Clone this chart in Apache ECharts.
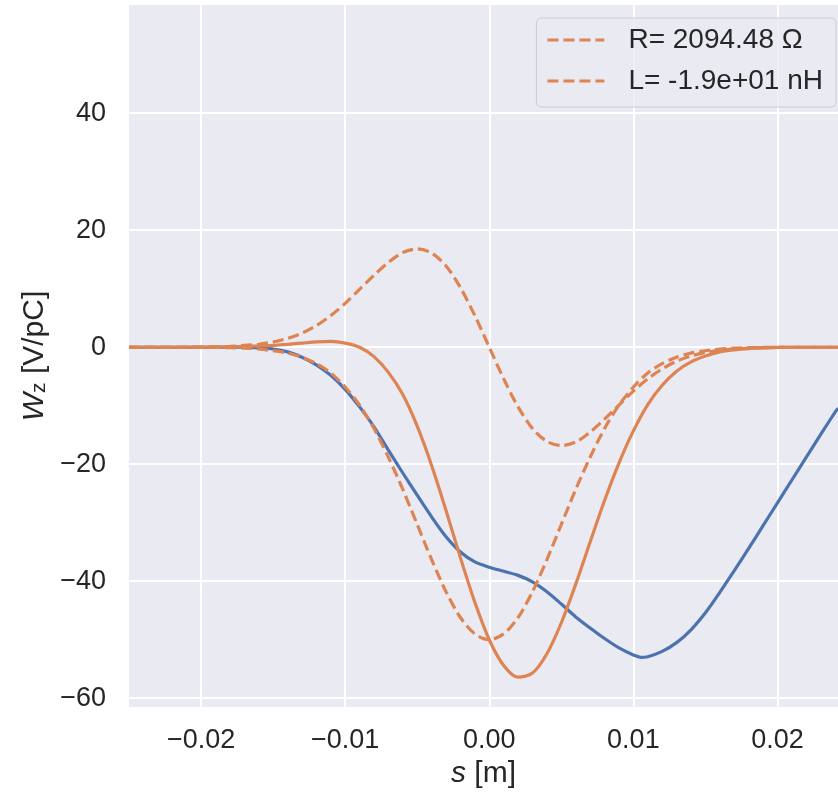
<!DOCTYPE html>
<html>
<head>
<meta charset="utf-8">
<script src="https://cdn.jsdelivr.net/npm/echarts@6/dist/echarts.min.js"></script>
<style>
  html, body { margin: 0; padding: 0; background: #fff; }
  #chart { width: 838px; height: 797px; }
</style>
</head>
<body>
<div id="chart"></div>
<script>
// s positions [m] for the orange curves (1 mm steps, last point at the plot edge)
const sGrid = [
  -0.025, -0.024, -0.023, -0.022, -0.021, -0.020, -0.019, -0.018, -0.017, -0.016,
  -0.015, -0.014, -0.013, -0.012, -0.011, -0.010, -0.009, -0.008, -0.007, -0.006,
  -0.005, -0.004, -0.003, -0.002, -0.001, 0.000, 0.001, 0.002, 0.003, 0.004,
  0.005, 0.006, 0.007, 0.008, 0.009, 0.010, 0.011, 0.012, 0.013, 0.014,
  0.015, 0.016, 0.017, 0.018, 0.019, 0.020, 0.021, 0.022, 0.023, 0.024, 0.0242
]
// resistive part (dashed)
const wakeR = [
  0, 0, 0, 0, 0, -0.02, -0.04, -0.08, -0.15, -0.3,
  -0.6, -1.0, -1.7, -2.8, -4.4, -6.8, -9.9, -13.9, -18.8, -24.3,
  -30.3, -36.3, -41.8, -46.2, -49.0, -50.0, -49.0, -46.2, -41.8, -36.3,
  -30.3, -24.3, -18.8, -13.9, -9.9, -6.8, -4.4, -2.8, -1.7, -1.0,
  -0.6, -0.3, -0.15, -0.08, -0.04, -0.02, 0, 0, 0, 0, 0
]
// inductive part (dashed)
const wakeL = [
  0, 0, 0, 0, 0, 0.03, 0.07, 0.15, 0.3, 0.5,
  0.9, 1.5, 2.4, 3.7, 5.4, 7.5, 9.9, 12.3, 14.5, 16.2,
  16.8, 16.1, 13.9, 10.2, 5.4, 0, -5.4, -10.2, -13.9, -16.1,
  -16.8, -16.2, -14.5, -12.3, -9.9, -7.5, -5.4, -3.7, -2.4, -1.5,
  -0.9, -0.5, -0.3, -0.15, -0.07, -0.03, 0, 0, 0, 0, 0
]
// R + L fit (solid orange)
const wakeFit = [
  0, 0, 0, 0, 0, 0.01, 0.03, 0.07, 0.15, 0.2,
  0.3, 0.5, 0.7, 0.9, 1.0, 0.7, 0.0, -1.6, -4.3, -8.1,
  -13.5, -20.2, -27.9, -36.0, -43.6, -50.0, -54.4, -56.4, -55.7, -52.4,
  -47.1, -40.5, -33.3, -26.2, -19.8, -14.3, -9.8, -6.5, -4.1, -2.5,
  -1.5, -0.8, -0.45, -0.23, -0.11, -0.05, 0, 0, 0, 0, 0
]
// simulated wake (blue)
const sWake = [
  -0.025, -0.024, -0.023, -0.022, -0.021, -0.020, -0.019, -0.018, -0.017, -0.016,
  -0.015, -0.014, -0.013, -0.012, -0.011, -0.010, -0.009, -0.008, -0.007, -0.006,
  -0.005, -0.004, -0.003, -0.002, -0.001, 0.000, 0.001, 0.002, 0.003, 0.004,
  0.005, 0.006, 0.007, 0.008, 0.009, 0.010, 0.0105, 0.011, 0.012, 0.013, 0.014,
  0.015, 0.016, 0.017, 0.018, 0.019, 0.020, 0.021, 0.022, 0.023, 0.024, 0.0242
]
const wakeZ = [
  0, 0, 0, 0, 0, 0, 0, 0, 0, -0.1,
  -0.3, -0.8, -1.7, -3.0, -4.8, -7.2, -10.2, -13.6, -17.6, -21.5,
  -25.3, -29.0, -32.4, -35.0, -36.7, -37.6, -38.3, -39.0, -40.1, -41.8,
  -43.9, -46.1, -48.0, -49.8, -51.4, -52.6, -53.0, -52.9, -52.0, -50.5, -48.3,
  -45.4, -41.9, -38.2, -34.4, -30.5, -26.6, -22.7, -18.8, -14.9, -11.1, -10.4
]
const xTicks = [-0.02, -0.01, 0, 0.01, 0.02]
const yTicks = [-60, -40, -20, 0, 20, 40]

const pairs = (xs, ys) => xs.map((x, i) => [x, ys[i]])
const minus = (s) => String(s).replace('-', '\u2212')

const blue = '#4c72b0'
const orange = '#dd8452'
const font = 'Liberation Sans, Arial, sans-serif'
const dashIcon = 'path://M0 0H11V3H0Z M16 0H27V3H16Z M32 0H43V3H32Z M48 0H57V3H48Z'

const chart = echarts.init(document.getElementById('chart'))
chart.setOption({
  animation: false,
  textStyle: { fontFamily: font, color: '#262626' },
  grid: {
    left: 129, right: 0, top: 5, bottom: 90,
    show: true, backgroundColor: '#eaeaf2', borderWidth: 0
  },
  legend: {
    data: ['R= 2094.48 \u03a9', 'L= -1.9e+01 nH'],
    orient: 'vertical',
    right: 2, top: 18,
    padding: [7, 13, 11, 11],
    icon: dashIcon,
    itemWidth: 57, itemHeight: 3, itemGap: 11,
    backgroundColor: 'rgba(234,234,242,0.8)',
    borderColor: '#cccccc', borderWidth: 1, borderRadius: 5,
    textStyle: { fontSize: 28, color: '#262626', fontFamily: font, lineHeight: 30, padding: [0, 0, 0, 19] }
  },
  xAxis: {
    type: 'value',
    min: -0.025, max: 0.0242,
    name: '{i|s} [m]',
    nameLocation: 'middle', nameGap: 52,
    nameTextStyle: { fontSize: 30, color: '#262626', rich: { i: { fontStyle: 'italic', fontSize: 30 } } },
    axisLine: { show: false },
    axisTick: { show: false, customValues: xTicks },
    axisLabel: {
      customValues: xTicks, fontSize: 27, color: '#262626', margin: 20,
      formatter: (v) => minus(v.toFixed(2))
    },
    splitLine: { lineStyle: { color: '#ffffff', width: 2 } }
  },
  yAxis: {
    type: 'value',
    min: -61.5, max: 58.5,
    name: '{i|W}{sub|z} [V/pC]',
    nameLocation: 'middle', nameGap: 79, nameRotate: 90,
    nameTextStyle: {
      fontSize: 30, color: '#262626',
      rich: { i: { fontStyle: 'italic', fontSize: 30 }, sub: { fontSize: 21, verticalAlign: 'bottom', padding: [8, 0, 0, 0] } }
    },
    axisLine: { show: false },
    axisTick: { show: false, customValues: yTicks },
    axisLabel: {
      customValues: yTicks, fontSize: 27, color: '#262626', margin: 23,
      formatter: (v) => minus(v)
    },
    splitLine: { lineStyle: { color: '#ffffff', width: 2 } }
  },
  series: [
    {
      name: 'Wz', type: 'line', data: pairs(sWake, wakeZ),
      smooth: 0.3, symbol: 'none',
      lineStyle: { color: blue, width: 3.2 }, itemStyle: { color: blue }
    },
    {
      name: 'R= 2094.48 \u03a9', type: 'line', data: pairs(sGrid, wakeR),
      smooth: 0.3, symbol: 'none',
      lineStyle: { color: orange, width: 3.2, type: [11, 5] }, itemStyle: { color: orange }
    },
    {
      name: 'L= -1.9e+01 nH', type: 'line', data: pairs(sGrid, wakeL),
      smooth: 0.3, symbol: 'none',
      lineStyle: { color: orange, width: 3.2, type: [11, 5] }, itemStyle: { color: orange }
    },
    {
      name: 'fit', type: 'line', data: pairs(sGrid, wakeFit),
      smooth: 0.3, symbol: 'none',
      lineStyle: { color: orange, width: 3.2 }, itemStyle: { color: orange }
    }
  ]
})
</script>
</body>
</html>
